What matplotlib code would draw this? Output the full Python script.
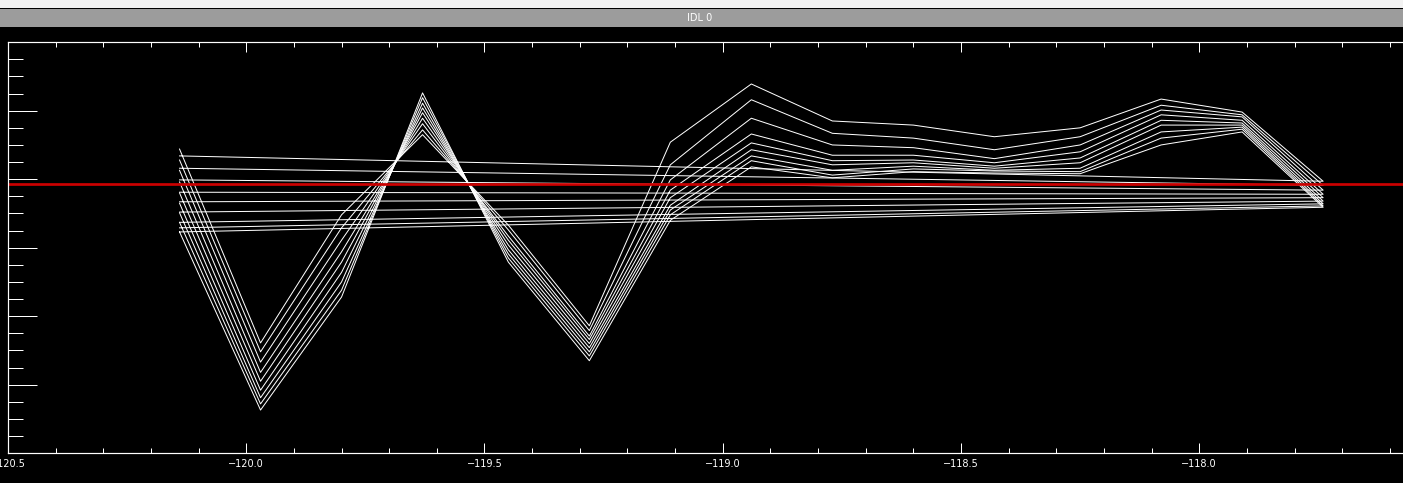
import numpy as np
import matplotlib
matplotlib.use("Agg")
import matplotlib.pyplot as plt
from matplotlib.patches import Rectangle
from matplotlib.ticker import MultipleLocator

# longitude of the profile points
lon = [-120.14, -119.97, -119.80, -119.63, -119.45, -119.28, -119.11, -118.94,
       -118.77, -118.60, -118.43, -118.25, -118.08, -117.91, -117.74]

# one row per profile
profiles = [
    [0.44, -2.39, -0.52, 0.65, -0.67, -2.14, 0.54, 1.39, 0.85, 0.79, 0.62, 0.75, 1.17, 0.98, -0.03],
    [0.28, -2.52, -0.71, 0.72, -0.74, -2.21, 0.21, 1.16, 0.67, 0.60, 0.43, 0.62, 1.08, 0.94, -0.09],
    [0.13, -2.67, -0.89, 0.81, -0.83, -2.29, -0.01, 0.89, 0.50, 0.46, 0.30, 0.50, 1.01, 0.91, -0.16],
    [-0.04, -2.82, -1.06, 0.89, -0.89, -2.34, -0.16, 0.66, 0.35, 0.35, 0.24, 0.40, 0.94, 0.86, -0.22],
    [-0.20, -2.95, -1.21, 0.97, -0.96, -2.40, -0.27, 0.53, 0.27, 0.28, 0.19, 0.31, 0.86, 0.82, -0.27],
    [-0.35, -3.08, -1.36, 1.04, -1.03, -2.46, -0.38, 0.43, 0.21, 0.24, 0.16, 0.24, 0.79, 0.79, -0.32],
    [-0.49, -3.19, -1.50, 1.11, -1.09, -2.52, -0.45, 0.34, 0.13, 0.19, 0.13, 0.16, 0.69, 0.76, -0.36],
    [-0.63, -3.28, -1.62, 1.19, -1.15, -2.58, -0.52, 0.27, 0.06, 0.15, 0.12, 0.11, 0.60, 0.73, -0.39],
    [-0.77, -3.37, -1.72, 1.26, -1.21, -2.65, -0.60, 0.18, 0.02, 0.11, 0.09, 0.08, 0.50, 0.69, -0.41],
]
# value where each profile wraps back to the first longitude
return_vals = [0.34, 0.16, -0.01, -0.19, -0.33, -0.48, -0.63, -0.71, -0.77]
ref_level = -0.07

W, H = 1403, 483
PT = 72 / 100  # points per pixel

fig = plt.figure(figsize=(W / 100, H / 100), dpi=100, facecolor="black")

# window frame: white strip + gray title bar
fig.add_artist(Rectangle((0, 1 - 8 / H), 1, 8 / H, transform=fig.transFigure,
                         facecolor="#f2f2f2", edgecolor="none"))
fig.add_artist(Rectangle((0, 1 - 27 / H), 1, 18 / H, transform=fig.transFigure,
                         facecolor="#9c9c9c", edgecolor="none"))
fig.text(700 / W, 1 - 18 / H, "IDL 0", color="white", fontsize=7,
         ha="center", va="center", family="DejaVu Sans")

px_per_deg = 476.5
x0, x1 = -120.5, -117.56
ax = fig.add_axes([8 / W, 1 - 453.2 / H, (x1 - x0) * px_per_deg / W, 411 / H])
ax.set_facecolor("black")
ax.set_xlim(x0, x1)
ax.set_ylim(-4, 2)

for row, rv in zip(profiles, return_vals):
    ax.plot(lon + [lon[0]], row + [rv], color="white", lw=1.0 * PT)

ax.axhline(ref_level, color="#cc0000", lw=2.7 * PT)

for s in ax.spines.values():
    s.set_color("white")
    s.set_linewidth(1.2 * PT)

ax.xaxis.set_major_locator(MultipleLocator(0.5))
ax.xaxis.set_minor_locator(MultipleLocator(0.1))
ax.yaxis.set_major_locator(MultipleLocator(1))
ax.yaxis.set_minor_locator(MultipleLocator(0.25))
ax.xaxis.set_major_formatter(plt.FuncFormatter(lambda v, p: f"{v:.1f}".replace("-", "\u2212")))

ax.tick_params(axis="x", which="both", direction="in", top=True, colors="white",
               labelsize=7, pad=4)
ax.tick_params(axis="x", which="major", length=10 * PT, width=PT)
ax.tick_params(axis="x", which="minor", length=5 * PT, width=PT)
ax.tick_params(axis="y", which="both", direction="in", right=False, labelleft=False,
               colors="white")
ax.tick_params(axis="y", which="major", length=29 * PT, width=PT)
ax.tick_params(axis="y", which="minor", length=15 * PT, width=PT)

fig.savefig("out.png", dpi=100, facecolor="black")
